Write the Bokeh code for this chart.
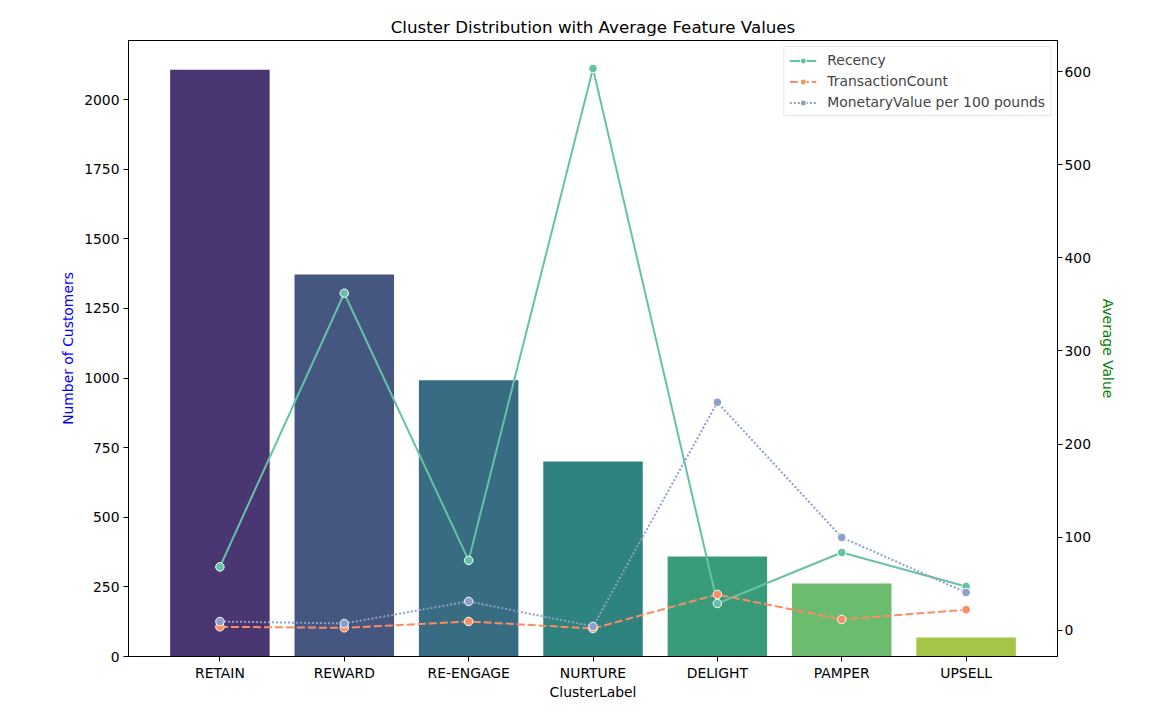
from bokeh.plotting import figure
from bokeh.models import (ColumnDataSource, FactorRange, Range1d, LinearAxis,
                          FixedTicker, Legend, LegendItem)
from bokeh.embed import file_html
from bokeh.resources import INLINE

clusters = ["RETAIN", "REWARD", "RE-ENGAGE", "NURTURE", "DELIGHT", "PAMPER", "UPSELL"]
customers = [2107, 1372, 992, 700, 359, 262, 68]
recency = [68, 362, 75, 603.5, 28.7, 83.5, 47]
transaction_count = [3.6, 2.5, 9.3, 1.8, 38.4, 11.5, 22]
monetary_per_100 = [9.3, 7.2, 30.9, 4.0, 244.8, 99.7, 40.5]
bar_colors = ["#4a3670", "#455681", "#386c82", "#2f837f", "#389c7b", "#6bbc6e", "#a3c646"]

FONT = "DejaVu Sans"
TICK_SIZE = "13.9px"

# matplotlib style 5% margins on the line axis
all_avg = recency + transaction_count + monetary_per_100
lo, hi = min(all_avg), max(all_avg)
pad = (hi - lo) * 0.05

p = figure(
    x_range=FactorRange(factors=clusters, range_padding=0.235, range_padding_units="absolute"),
    y_range=Range1d(0, max(customers) * 1.05),
    width=1152, height=708,
    output_backend="svg", toolbar_location=None, tools="",
    min_border_left=128, min_border_right=95, min_border_top=40, min_border_bottom=52,
    title="Cluster Distribution with Average Feature Values",
)
p.extra_y_ranges = {"avg": Range1d(lo - pad, hi + pad)}

p.title.align = "center"
p.title.text_font = FONT
p.title.text_font_size = "16.7px"
p.title.text_font_style = "normal"
p.title.text_color = "black"
p.title.standoff = 8

p.grid.visible = False
p.outline_line_color = "black"
p.outline_line_width = 1

src = ColumnDataSource(dict(
    cluster=clusters, customers=customers, color=bar_colors,
    recency=recency, tx=transaction_count, money=monetary_per_100,
))

p.vbar(x="cluster", top="customers", width=0.8, fill_color="color", line_color=None, source=src)

series = [
    ("Recency", "recency", "#66c2a5", "solid"),
    ("TransactionCount", "tx", "#fc8d62", "8 3"),
    ("MonetaryValue per 100 pounds", "money", "#8da0cb", "2 2"),
]
items = []
for label, col, color, dash in series:
    ln = p.line(x="cluster", y=col, source=src, line_color=color, line_width=2,
                line_dash=dash, y_range_name="avg")
    sc = p.scatter(x="cluster", y=col, source=src, size=8.5, fill_color=color,
                   line_color="white", line_width=1, y_range_name="avg")
    items.append(LegendItem(label=label, renderers=[ln, sc]))

# left axis
ya = p.yaxis[0]
ya.ticker = FixedTicker(ticks=[0, 250, 500, 750, 1000, 1250, 1500, 1750, 2000])
ya.axis_label = "Number of Customers"
ya.axis_label_text_color = "blue"

# right axis
ra = LinearAxis(y_range_name="avg", ticker=FixedTicker(ticks=[0, 100, 200, 300, 400, 500, 600]),
                axis_label="Average Value")
ra.axis_label_text_color = "green"
p.add_layout(ra, "right")

xa = p.xaxis[0]
xa.axis_label = "ClusterLabel"
xa.axis_label_text_color = "black"

for ax in [xa, ya, ra]:
    ax.major_label_text_font = FONT
    ax.major_label_text_font_size = TICK_SIZE
    ax.major_label_text_color = "black"
    ax.axis_label_text_font = FONT
    ax.axis_label_text_font_size = TICK_SIZE
    ax.axis_label_text_font_style = "normal"
    ax.axis_line_color = "black"
    ax.major_tick_line_color = "black"
    ax.major_tick_out = 5
    ax.major_tick_in = 0
    ax.minor_tick_line_color = None
    ax.major_label_standoff = 4
xa.major_label_standoff = 3
ra.major_label_standoff = 2
xa.axis_label_standoff = 0
ya.axis_label_standoff = 5
ra.axis_label_standoff = 6

legend = Legend(items=items, location="top_right")
legend.label_text_font = FONT
legend.label_text_font_size = TICK_SIZE
legend.margin = 6
legend.padding = 5
legend.spacing = 5
legend.label_standoff = 11
legend.glyph_width = 27
legend.glyph_height = 15
legend.label_height = 15
legend.border_line_color = "#cccccc"
legend.background_fill_alpha = 0.8
p.add_layout(legend)

open("out.html", "w").write(file_html(p, INLINE))
